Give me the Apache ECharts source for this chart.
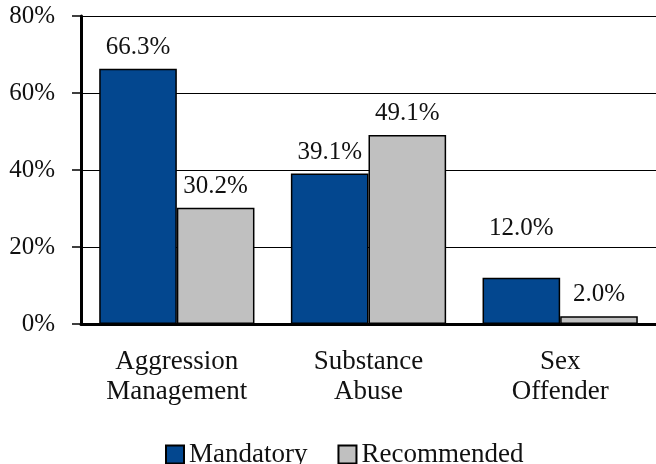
<!DOCTYPE html>
<html>
<head>
<meta charset="utf-8">
<script src="https://cdn.jsdelivr.net/npm/echarts@6/dist/echarts.min.js"></script>
<style>
  html, body { margin: 0; padding: 0; background: #fff; }
  #chart { width: 656px; height: 464px; }
</style>
</head>
<body>
<div id="chart"></div>
<script>
// data
var categories = ['Aggression\nManagement', 'Substance\nAbuse', 'Sex\nOffender'];
var mandatory = [66.3, 39.1, 12.0];
var recommended = [30.2, 49.1, 2.0];
var yTicks = [0, 20, 40, 60, 80];

var FONT = 'Liberation Serif';

var chart = echarts.init(document.getElementById('chart'));

function labelled(values, liftIndex, lift) {
    return values.map(function (v, i) {
        if (i === liftIndex) {
            return { value: v, label: { offset: [0, lift] } };
        }
        return v;
    });
}

var option = {
    animation: false,
    grid: { left: 81, top: 16, bottom: 140, width: 582 },
    legend: {
        left: 165,
        top: 441,
        padding: 0,
        itemWidth: 18,
        itemHeight: 18,
        itemGap: 30,
        icon: 'rect',
        textStyle: { fontFamily: FONT, fontSize: 27, color: '#111' },
        data: ['Mandatory', 'Recommended']
    },
    xAxis: {
        type: 'category',
        data: categories,
        axisLine: { lineStyle: { color: '#000', width: 3 } },
        axisTick: { length: 9, lineStyle: { color: '#000', width: 2 } },
        axisLabel: {
            margin: 23,
            fontFamily: FONT,
            fontSize: 27,
            lineHeight: 30,
            color: '#111'
        }
    },
    yAxis: {
        type: 'value',
        min: yTicks[0],
        max: yTicks[yTicks.length - 1],
        interval: 20,
        axisLine: { show: true, lineStyle: { color: '#000', width: 3 } },
        axisTick: { show: true, length: 9, lineStyle: { color: '#000', width: 1.5 } },
        splitLine: { lineStyle: { color: '#000', width: 1.2 } },
        axisLabel: {
            margin: 26,
            fontFamily: FONT,
            fontSize: 25,
            color: '#111',
            formatter: '{value}%'
        }
    },
    series: [
        {
            name: 'Mandatory',
            type: 'bar',
            barGap: '0%',
            barCategoryGap: '19%',
            data: labelled(mandatory, 2, -28),
            itemStyle: { color: '#03478f', borderColor: '#000', borderWidth: 1.5 },
            label: {
                show: true,
                position: 'top',
                distance: 9,
                fontFamily: FONT,
                fontSize: 25,
                color: '#111',
                formatter: function (p) { return p.value.toFixed(1) + '%'; }
            }
        },
        {
            name: 'Recommended',
            type: 'bar',
            data: recommended,
            itemStyle: { color: '#c0c0c0', borderColor: '#000', borderWidth: 1.5 },
            label: {
                show: true,
                position: 'top',
                distance: 9,
                fontFamily: FONT,
                fontSize: 25,
                color: '#111',
                formatter: function (p) { return p.value.toFixed(1) + '%'; }
            }
        }
    ]
};

chart.setOption(option);
</script>
</body>
</html>
